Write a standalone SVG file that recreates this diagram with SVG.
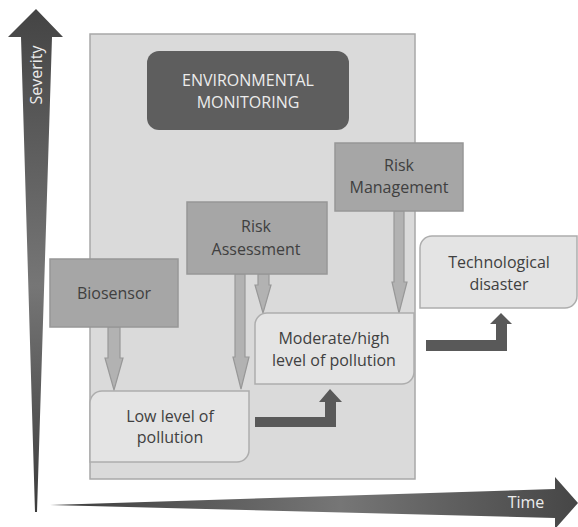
<svg xmlns="http://www.w3.org/2000/svg" width="578" height="527" viewBox="0 0 578 527">
  <defs>
    <linearGradient id="sevGrad" x1="0" y1="0" x2="0" y2="1">
      <stop offset="0" stop-color="#444"/>
      <stop offset="0.55" stop-color="#767676"/>
      <stop offset="1" stop-color="#3c3c3c"/>
    </linearGradient>
    <linearGradient id="timeGrad" x1="0" y1="0" x2="1" y2="0">
      <stop offset="0" stop-color="#3c3c3c"/>
      <stop offset="0.55" stop-color="#767676"/>
      <stop offset="1" stop-color="#464646"/>
    </linearGradient>
    <style>
      .lbl { font-family: "Open Sans", "Liberation Sans", sans-serif; font-size: 16px; fill: #404040; text-anchor: middle; }
      .lt { fill: #ececec; }
      .step { fill: #a6a6a6; stroke: #979797; stroke-width: 1.5; }
      .state { fill: #e4e4e4; stroke: #adadad; stroke-width: 1.5; }
      .down { fill: #b2b2b2; stroke: #989898; stroke-width: 1.2; }
      .bend { fill: #595959; }
    </style>
  </defs>

  <!-- axes -->
  <polygon points="36,9 63,37 52,37 37,512 35,512 21,37 8,37" fill="url(#sevGrad)"/>
  <text class="lbl lt" transform="translate(42,75) rotate(-90)">Severity</text>
  <polygon points="50,505 555,489 555,477 578,503 555,529 555,518" fill="url(#timeGrad)"/>
  <text class="lbl lt" x="526" y="508">Time</text>

  <!-- monitoring panel -->
  <rect id="panel" x="90" y="34" width="325" height="445" fill="#dadada" stroke="#a8a8a8" stroke-width="1.5"/>

  <g id="connectors">
    <polygon class="down" points="108,327 120,327 120,358 123,358 114,390 105,358 108,358"/>
    <polygon class="down" points="235,274 245,274 245,357 249,357 241,389 233,357 235,357"/>
    <polygon class="down" points="258,274 269,274 269,285 271,285 263,313 255,285 258,285"/>
    <polygon class="down" points="394,211 404,211 404,282 407,282 399,313 392,282 394,282"/>
    <polygon class="bend" points="255,417 325,417 325,402 319,402 330,389 342,402 336,402 336,427 255,427"/>
    <polygon class="bend" points="426,340 496,340 496,324 490,324 501,313 512,324 507,324 507,351 426,351"/>
  </g>

  <g id="env-monitoring">
    <rect x="147" y="51" width="202" height="79" rx="12" fill="#5e5e5e"/>
    <text class="lbl lt" x="248" y="86">ENVIRONMENTAL</text>
    <text class="lbl lt" x="248" y="108">MONITORING</text>
  </g>

  <g id="biosensor">
    <rect class="step" x="50" y="259" width="128" height="68"/>
    <text class="lbl" x="114" y="299">Biosensor</text>
  </g>

  <g id="risk-assessment">
    <rect class="step" x="187" y="202" width="140" height="72"/>
    <text class="lbl" x="256" y="232">Risk</text>
    <text class="lbl" x="256" y="255">Assessment</text>
  </g>

  <g id="risk-management">
    <rect class="step" x="335" y="143" width="128" height="68"/>
    <text class="lbl" x="399" y="171">Risk</text>
    <text class="lbl" x="399" y="193">Management</text>
  </g>

  <g id="low-pollution">
    <path class="state" d="M102,391 H249 V450 A12,12 0 0 1 237,462 H90 V403 A12,12 0 0 1 102,391 Z"/>
    <text class="lbl" x="170" y="422">Low level of</text>
    <text class="lbl" x="170" y="443">pollution</text>
  </g>

  <g id="moderate-pollution">
    <path class="state" d="M267,313 H414 V372 A12,12 0 0 1 402,384 H255 V325 A12,12 0 0 1 267,313 Z"/>
    <text class="lbl" x="334" y="344">Moderate/high</text>
    <text class="lbl" x="334" y="366">level of pollution</text>
  </g>

  <g id="tech-disaster">
    <path class="state" d="M432,236 H577 V296 A12,12 0 0 1 565,308 H420 V248 A12,12 0 0 1 432,236 Z"/>
    <text class="lbl" x="499" y="268">Technological</text>
    <text class="lbl" x="499" y="290">disaster</text>
  </g>
</svg>
